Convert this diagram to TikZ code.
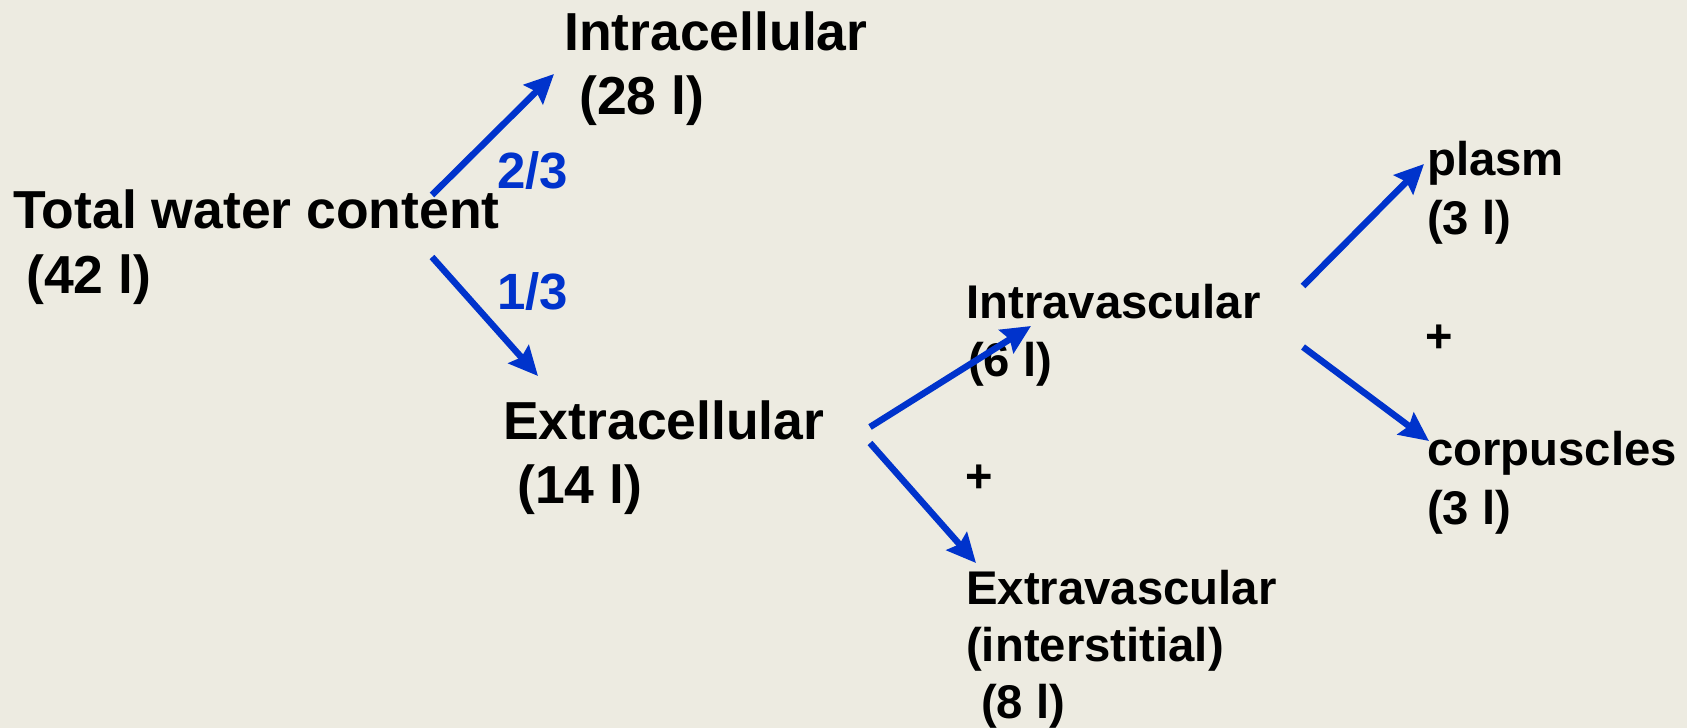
\documentclass[tikz,border=0pt]{standalone}
\usepackage{fontspec}
\setmainfont{Liberation Sans}
\usetikzlibrary{arrows.meta}
\definecolor{bg}{RGB}{237,235,225}
\definecolor{arrblue}{RGB}{0,51,204}
\tikzset{
  big/.style={anchor=base west,inner sep=0pt,font=\fontsize{53.5}{60}\selectfont\bfseries},
  small/.style={anchor=base west,inner sep=0pt,font=\fontsize{47.3}{56}\selectfont\bfseries},
  frac/.style={anchor=base west,inner sep=0pt,text=arrblue,font=\fontsize{51}{56}\selectfont\bfseries},
  plus/.style={inner sep=0pt,font=\fontsize{47}{56}\selectfont\bfseries},
  arr/.style={draw=arrblue,line width=6.5pt,-{Stealth[length=29pt,width=27pt,inset=4pt]}}
}
\begin{document}
\begin{tikzpicture}[x=1pt,y=-1pt]
\fill[bg] (0,0) rectangle (1687,728);
\useasboundingbox (0,0) rectangle (1687,728);
% texts
\node[big] (tot) at (13,228) {Total water content};
\node[big] (totl) at (26,293) {(42 l)};
\node[big] (ic) at (564,50) {Intracellular};
\node[big] (icl) at (579,114) {(28 l)};
\node[big] (ec) at (503,439) {Extracellular};
\node[big] (ecl) at (517,503) {(14 l)};
\node[small] (iv) at (966,318) {Intravascular};
\node[small] (ivl) at (968,376) {(6 l)};
\node[plus] (p1) at (979,479) {+};
\node[small] (ev) at (966,604) {Extravascular};
\node[small] (evi) at (966,661) {(interstitial)};
\node[small] (evl) at (981,718) {(8 l)};
\node[small] (pl) at (1427,175) {plasm};
\node[small] (pll) at (1427,234) {(3 l)};
\node[plus] (p2) at (1439,339) {+};
\node[small] (co) at (1427,465) {corpuscles};
\node[small] (col) at (1427,524) {(3 l)};
\node[frac] (f1) at (497,188) {2/3};
\node[frac] (f2) at (497,309) {1/3};
% connector ends
\coordinate (a1s) at (432,195);
\coordinate (a1e) at (554,74);
\coordinate (a2s) at (432,257);
\coordinate (a2e) at (538,376);
\coordinate (a3s) at (870,427);
\coordinate (a3e) at (1031,326);
\coordinate (a4s) at (870,443);
\coordinate (a4e) at (976,563);
\coordinate (a5s) at (1303,286);
\coordinate (a5e) at (1424,164);
\coordinate (a6s) at (1303,347);
\coordinate (a6e) at (1429,441);
\draw[arr] (a1s) -- (a1e);
\draw[arr] (a2s) -- (a2e);
\draw[arr] (a3s) -- (a3e);
\draw[arr] (a4s) -- (a4e);
\draw[arr] (a5s) -- (a5e);
\draw[arr] (a6s) -- (a6e);
\end{tikzpicture}
\end{document}
